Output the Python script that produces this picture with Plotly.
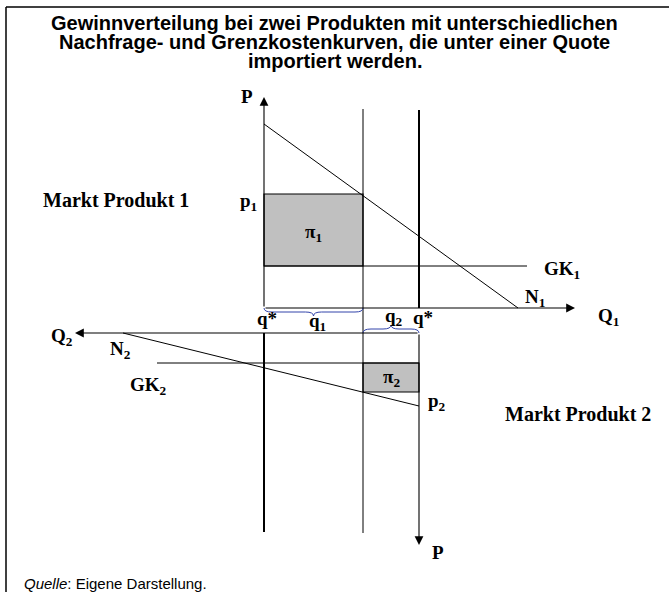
import plotly.graph_objects as go

# ---- Markt Produkt 1 (Ursprung unten links: Q nach rechts, P nach oben)
n1_q = [0, 254]        # Nachfragekurve N1
n1_p = [184, 0]
gk1 = 42               # Grenzkosten GK1
p1 = 114               # Preis p1
q1 = 99                # Menge q1

# ---- Markt Produkt 2 (Ursprung oben rechts: Q nach links, P nach unten)
n2_q = [296, 0]        # Nachfragekurve N2
n2_p = [0, 73]
gk2 = 30               # Grenzkosten GK2
p2 = 59                # Preis p2
q2 = 56                # Menge q2

q_star = 155           # Quote q*

BLACK = "black"
BLUE = "#3344aa"
SERIF = "Liberation Serif"
SANS = "Liberation Sans"

fig = go.Figure()

# Markt 1
fig.add_trace(go.Scatter(x=n1_q, y=n1_p, mode="lines", line=dict(color=BLACK, width=1)))
fig.add_trace(go.Scatter(x=[0, 263], y=[gk1, gk1], mode="lines", line=dict(color=BLACK, width=1)))
fig.add_trace(go.Scatter(x=[q1, q1], y=[199, -225], mode="lines", line=dict(color=BLACK, width=1)))
fig.add_trace(go.Scatter(x=[q_star, q_star], y=[0, 198], mode="lines", line=dict(color=BLACK, width=2)))

# Markt 2
fig.add_trace(go.Scatter(x=n2_q, y=n2_p, mode="lines", line=dict(color=BLACK, width=1),
                         xaxis="x2", yaxis="y2"))
fig.add_trace(go.Scatter(x=[0, 262], y=[gk2, gk2], mode="lines", line=dict(color=BLACK, width=1),
                         xaxis="x2", yaxis="y2"))
fig.add_trace(go.Scatter(x=[q_star, q_star], y=[0, 199], mode="lines", line=dict(color=BLACK, width=2),
                         xaxis="x2", yaxis="y2"))


def brace(x0, x1, d, r=8):
    xm = (x0 + x1) / 2
    h = d / 2
    return (f"M {x0},0 Q {x0},{h} {x0 + r},{h} L {xm - r},{h} Q {xm},{h} {xm},{d} "
            f"Q {xm},{h} {xm + r},{h} L {x1 - r},{h} Q {x1},{h} {x1},0")


shapes = [
    dict(type="rect", xref="x", yref="y", x0=0, x1=q1, y0=gk1, y1=p1,
         fillcolor="#c0c0c0", line=dict(color=BLACK, width=1.2), layer="below"),
    dict(type="rect", xref="x2", yref="y2", x0=0, x1=q2, y0=gk2, y1=p2,
         fillcolor="#c0c0c0", line=dict(color=BLACK, width=1.2), layer="below"),
    dict(type="path", xref="x", yref="y", path=brace(0, q1, -8), line=dict(color=BLUE, width=1)),
    dict(type="path", xref="x2", yref="y2", path=brace(0, q2, -8), line=dict(color=BLUE, width=1)),
    # Rahmen
    dict(type="line", xref="paper", yref="paper", x0=6 / 669, x1=6 / 669, y0=0, y1=1 - 7 / 592,
         line=dict(color=BLACK, width=1.5)),
    dict(type="line", xref="paper", yref="paper", x0=6 / 669, x1=1, y0=1 - 7 / 592, y1=1 - 7 / 592,
         line=dict(color=BLACK, width=1.5)),
]


def arrow(x, y, ref):
    xr, yr = ref
    return dict(x=x, y=y, ax=0, ay=0, xref=xr, yref=yr, axref=xr, ayref=yr, text="",
                showarrow=True, arrowhead=2, arrowsize=1.6, arrowwidth=1.1, arrowcolor=BLACK,
                standoff=0, startstandoff=0)


def label(text, x, y, ref, size=19, xanchor="center"):
    xr, yr = ref
    return dict(x=x, y=y, xref=xr, yref=yr, text=f"<b>{text}</b>", showarrow=False,
                xanchor=xanchor, yanchor="middle", font=dict(family=SERIF, size=size, color=BLACK))


M1 = ("x", "y")
M2 = ("x2", "y2")

annotations = [
    arrow(0, 211, M1), arrow(311, 0, M1),
    arrow(344, 0, M2), arrow(0, 212, M2),
    label("P", -17, 212, M1),
    label("Markt Produkt 1", -148, 108, M1, size=20),
    label("p<sub>1</sub>", -5, p1 - 8, M1, xanchor="right"),
    label("π<sub>1</sub>", q1 / 2, (p1 + gk1) / 2 - 3, M1),
    label("GK<sub>1</sub>", 278, 38, M1, xanchor="left"),
    label("N<sub>1</sub>", 271, 10, M1, xanchor="center"),
    label("Q<sub>1</sub>", 344, -9, M1),
    label("q*", 3, -10, M1),
    label("q<sub>1</sub>", 53, -14, M1),
    label("q<sub>2</sub>", 130, -9, M1),
    label("q*", 159, -9, M1),
    label("Q<sub>2</sub>", 357, 4, M2),
    label("N<sub>2</sub>", 299, 17, M2),
    label("GK<sub>2</sub>", 271, 53, M2),
    label("π<sub>2</sub>", q2 / 2, (p2 + gk2) / 2, M2),
    label("p<sub>2</sub>", -18, 69, M2),
    label("Markt Produkt 2", -159, 81, M2, size=20),
    label("P", -19, 219, M2),
]

title_lines = ["Gewinnverteilung bei zwei Produkten mit unterschiedlichen",
               "Nachfrage- und Grenzkostenkurven, die unter einer Quote",
               "importiert werden."]
for i, t in enumerate(title_lines):
    annotations.append(dict(x=0.5, y=1 - (23 + 19 * i) / 592, xref="paper", yref="paper",
                            text=f"<b>{t}</b>", showarrow=False, xanchor="center", yanchor="middle",
                            font=dict(family=SANS, size=20, color=BLACK)))

annotations.append(dict(x=22 / 669, y=1 - 583 / 592, xref="paper", yref="paper",
                        text="<i>Quelle</i>: Eigene Darstellung.", showarrow=False,
                        xanchor="left", yanchor="middle",
                        font=dict(family=SANS, size=15, color=BLACK)))

hidden = dict(visible=False, showgrid=False, zeroline=False, fixedrange=True)
fig.update_layout(
    width=669, height=592,
    margin=dict(l=0, r=0, t=0, b=0),
    paper_bgcolor="white", plot_bgcolor="white",
    showlegend=False,
    xaxis=dict(range=[-264, 405], domain=[0, 1], **hidden),
    yaxis=dict(range=[-284, 308], domain=[0, 1], **hidden),
    xaxis2=dict(range=[419, -250], overlaying="x", anchor="y2", **hidden),
    yaxis2=dict(range=[259, -333], overlaying="y", anchor="x2", **hidden),
    shapes=shapes,
    annotations=annotations,
)

fig.write_html("out.html", config={"displayModeBar": False},
               post_script="document.body.style.margin='0';")
